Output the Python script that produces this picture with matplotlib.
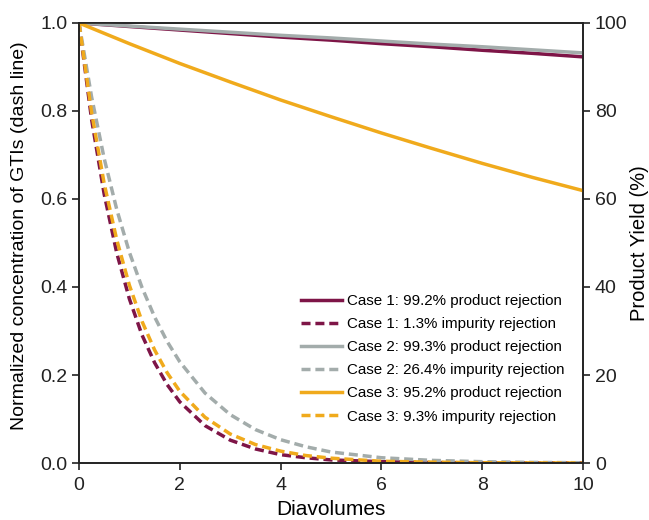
import matplotlib
matplotlib.use("Agg")
import matplotlib.pyplot as plt

plt.rcParams['font.family'] = ['Liberation Sans', 'DejaVu Sans']

# Diavolumes for impurity (dashed) curves
dv_imp = [0, 0.25, 0.5, 0.75, 1, 1.25, 1.5, 1.75, 2, 2.5, 3, 3.5, 4, 4.5, 5, 6, 7, 8, 9, 10]
case1_imp = [1, 0.781, 0.611, 0.477, 0.373, 0.291, 0.228, 0.178, 0.139, 0.085, 0.052, 0.032,
             0.019, 0.012, 0.007, 0.003, 0.001, 0.0004, 0.0001, 0.0001]
case2_imp = [1, 0.832, 0.692, 0.576, 0.479, 0.399, 0.332, 0.276, 0.230, 0.159, 0.110, 0.076,
             0.053, 0.037, 0.025, 0.012, 0.006, 0.003, 0.0013, 0.0006]
case3_imp = [1, 0.797, 0.635, 0.507, 0.404, 0.322, 0.257, 0.205, 0.163, 0.104, 0.066, 0.042,
             0.027, 0.017, 0.011, 0.004, 0.002, 0.0007, 0.0003, 0.0001]

# Diavolumes for product yield (solid) curves
dv_prod = [0, 1, 2, 3, 4, 5, 6, 7, 8, 9, 10]
case1_yield = [100, 99.2, 98.4, 97.6, 96.8, 96.1, 95.3, 94.6, 93.8, 93.1, 92.3]
case2_yield = [100, 99.3, 98.6, 97.9, 97.2, 96.6, 95.9, 95.2, 94.6, 93.9, 93.2]
case3_yield = [100, 95.3, 90.8, 86.6, 82.5, 78.7, 75.0, 71.5, 68.1, 64.9, 61.9]

labels = ["Case 1: 99.2% product rejection", "Case 1: 1.3% impurity rejection",
          "Case 2: 99.3% product rejection", "Case 2: 26.4% impurity rejection",
          "Case 3: 95.2% product rejection", "Case 3: 9.3% impurity rejection"]

c1 = "#7E1547"
c2 = "#A3ACAB"
c3 = "#F0AA1C"

fig = plt.figure(figsize=(6.49, 5.2), dpi=100)
ax = fig.add_axes([0.1217, 0.1096, 0.7766, 0.8462])
ax2 = ax.twinx()

lw = 2.5
dash = (2.6, 1.4)
h = []
h += ax2.plot(dv_prod, case1_yield, color=c1, lw=lw, label=labels[0])
h += ax.plot(dv_imp, case1_imp, color=c1, lw=lw, ls=(0, dash), label=labels[1])
h += ax2.plot(dv_prod, case2_yield, color=c2, lw=lw, label=labels[2])
h += ax.plot(dv_imp, case2_imp, color=c2, lw=lw, ls=(0, dash), label=labels[3])
h += ax2.plot(dv_prod, case3_yield, color=c3, lw=lw, label=labels[4])
h += ax.plot(dv_imp, case3_imp, color=c3, lw=lw, ls=(0, dash), label=labels[5])

ax.set_xlim(0, 10)
ax.set_ylim(0, 1.0)
ax2.set_ylim(0, 100)
ax.set_xticks([0, 2, 4, 6, 8, 10])
ax.set_yticks([0, 0.2, 0.4, 0.6, 0.8, 1.0])
ax.set_yticklabels(["0.0", "0.2", "0.4", "0.6", "0.8", "1.0"])
ax2.set_yticks([0, 20, 40, 60, 80, 100])

for a in (ax, ax2):
    a.tick_params(direction='out', length=5, width=1.2, labelsize=14, colors='#222222')
    for s in a.spines.values():
        s.set_linewidth(1.2)
        s.set_color('#222222')
ax.tick_params(axis='x', pad=5)

ax.set_xlabel("Diavolumes", fontsize=15, va='center', ha='center')
ax.xaxis.set_label_coords(0.5, -0.105)
ax.set_ylabel("Normalized concentration of GTIs (dash line)", fontsize=14,
              va='center', ha='center', rotation=90)
ax.yaxis.set_label_coords(-0.119, 0.517)
ax2.set_ylabel("Product Yield (%)", fontsize=14.5, va='center', ha='center', rotation=90)
ax2.yaxis.set_label_coords(1.112, 0.5)

leg = ax2.legend(handles=h, loc='lower right', bbox_to_anchor=(0.982, 0.069), frameon=False,
                 fontsize=10.9, handlelength=2.7, handletextpad=0.35, labelspacing=0.6,
                 borderaxespad=0.2)

fig.savefig("out.png", dpi=100)
